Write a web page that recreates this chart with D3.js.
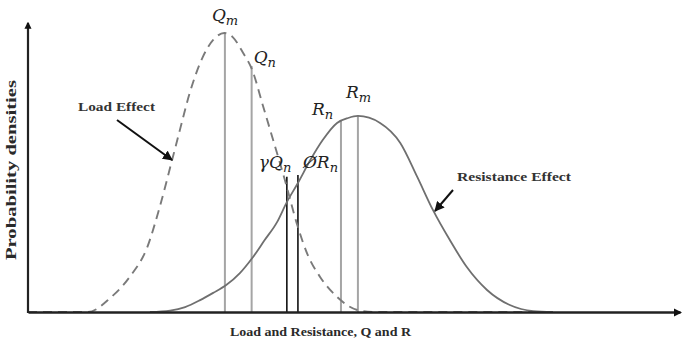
<!DOCTYPE html>
<html>
<head>
<meta charset="utf-8">
<script src="https://cdn.jsdelivr.net/npm/d3@7/dist/d3.min.js"></script>
<style>
  html, body { margin: 0; padding: 0; background: #fff; }
  svg { display: block; }
</style>
</head>
<body>
<svg id="chart" width="684" height="352"></svg>
<script>
// ---- Data (x in load/resistance units, y in density units) ----
const loadX = [0, 9.2, 12.6, 15.6, 18.3, 20.2, 22.1, 23.3, 24.8, 26.8, 28.4, 30.1, 31.4, 33.0, 34.4, 36.0, 37.6, 39.4, 41.3, 42.9, 44.8, 47.4, 50.5, 52.8, 81];
const loadY = [0, 0, 0.048, 0.121, 0.224, 0.362, 0.524, 0.628, 0.755, 0.879, 0.938, 0.962, 0.948, 0.893, 0.834, 0.714, 0.593, 0.455, 0.300, 0.197, 0.121, 0.052, 0.007, 0, 0];

const resX = [18.7, 21.8, 24.1, 26.4, 28.4, 30.4, 32.5, 34.4, 36.3, 38.2, 39.7, 41.4, 43.3, 45.2, 47.4, 49.1, 50.6, 54.0, 57.1, 59.7, 62.1, 64.7, 67.3, 70.4, 73.9, 77.5, 80.5];
const resY = [0, 0.005, 0.017, 0.041, 0.066, 0.093, 0.134, 0.186, 0.248, 0.310, 0.379, 0.445, 0.524, 0.593, 0.652, 0.669, 0.676, 0.652, 0.583, 0.466, 0.352, 0.248, 0.155, 0.076, 0.024, 0.003, 0];

const markerNames = ["Qm", "Qn", "gQn", "phiRn", "Rn", "Rm"];
const markerX     = [30.2, 34.3, 39.7, 41.4, 48.0, 50.6];
const markerTop   = [0.962, 0.848, 0.466, 0.472, 0.659, 0.676];
const markerKind  = ["gray", "gray", "black", "black", "gray", "gray"];

const xTitle = "Load and Resistance, Q and R";
const yTitle = "Probability densities";
const loadLabel = "Load Effect";
const resLabel = "Resistance Effect";

// ---- Layout ----
const svg = d3.select("#chart");
const x = d3.scaleLinear().domain([0, 100]).range([28, 680]);
const y = d3.scaleLinear().domain([0, 1]).range([312, 22]);

const defs = svg.append("defs");
defs.append("marker").attr("id", "arrow")
  .attr("viewBox", "0 0 10 10").attr("refX", 9).attr("refY", 5)
  .attr("markerWidth", 5).attr("markerHeight", 5).attr("orient", "auto-start-reverse")
  .append("path").attr("d", "M0,0 L10,5 L0,10 z").attr("fill", "#111");
defs.append("marker").attr("id", "axArrow")
  .attr("viewBox", "0 0 10 10").attr("refX", 8).attr("refY", 5)
  .attr("markerWidth", 3.2).attr("markerHeight", 3.2).attr("orient", "auto")
  .append("path").attr("d", "M0,0 L10,5 L0,10 z").attr("fill", "#111");

// ---- Marker lines ----
const mk = markerNames.map((n, i) => ({ n, x: markerX[i], top: markerTop[i], kind: markerKind[i] }));
svg.append("g").selectAll("line").data(mk).join("line")
  .attr("x1", d => x(d.x)).attr("x2", d => x(d.x))
  .attr("y1", y(0)).attr("y2", d => y(d.top))
  .attr("stroke", d => d.kind === "gray" ? "#a5a5a5" : "#111")
  .attr("stroke-width", d => d.kind === "gray" ? 2 : 1.6);

// ---- Curves ----
const line = d3.line().x(d => x(d[0])).y(d => y(d[1])).curve(d3.curveMonotoneX);
svg.append("path").datum(d3.zip(resX, resY))
  .attr("d", line).attr("fill", "none").attr("stroke", "#6f6f6f").attr("stroke-width", 1.8);
svg.append("path").datum(d3.zip(loadX, loadY))
  .attr("d", line).attr("fill", "none").attr("stroke", "#7a7a7a").attr("stroke-width", 1.9)
  .attr("stroke-dasharray", "9,6");

// ---- Axes ----
const xAxis = svg.append("g").attr("transform", `translate(0,${y(0)})`)
  .call(d3.axisBottom(x).tickValues([]).tickSizeOuter(0));
xAxis.select(".domain").attr("stroke", "#222").attr("stroke-width", 2.6)
  .attr("marker-end", "url(#axArrow)");
const yAxis = svg.append("g").attr("transform", `translate(${x(0)},0)`)
  .call(d3.axisLeft(y).tickValues([]).tickSizeOuter(0));
yAxis.select(".domain").attr("stroke", "#222").attr("stroke-width", 2.2)
  .attr("d", `M0,${y(0) + 1}V${y(1) + 1}`)
  .attr("marker-end", "url(#axArrow)");

// ---- Titles ----
svg.append("text").attr("x", 230).attr("y", 336)
  .attr("font-family", "Liberation Serif, Times New Roman, serif").attr("font-weight", "bold")
  .attr("font-size", 13).attr("fill", "#2a2a2a")
  .attr("textLength", 181).attr("lengthAdjust", "spacingAndGlyphs").text(xTitle);
svg.append("text").attr("transform", "translate(16,260) rotate(-90)")
  .attr("font-family", "Liberation Serif, Times New Roman, serif").attr("font-weight", "bold")
  .attr("font-size", 15).attr("fill", "#2a2a2a")
  .attr("textLength", 180).attr("lengthAdjust", "spacingAndGlyphs").text(yTitle);

// ---- Annotation labels ----
svg.append("text").attr("x", 78).attr("y", 111)
  .attr("font-family", "Liberation Serif, Times New Roman, serif").attr("font-weight", "bold")
  .attr("font-size", 12).attr("fill", "#333")
  .attr("textLength", 77).attr("lengthAdjust", "spacingAndGlyphs").text(loadLabel);
svg.append("line").attr("x1", 117).attr("y1", 120).attr("x2", 172).attr("y2", 160)
  .attr("stroke", "#111").attr("stroke-width", 2).attr("marker-end", "url(#arrow)");

svg.append("text").attr("x", 457).attr("y", 181)
  .attr("font-family", "Liberation Serif, Times New Roman, serif").attr("font-weight", "bold")
  .attr("font-size", 13).attr("fill", "#333")
  .attr("textLength", 114).attr("lengthAdjust", "spacingAndGlyphs").text(resLabel);
svg.append("line").attr("x1", 453).attr("y1", 190).attr("x2", 435).attr("y2", 211)
  .attr("stroke", "#111").attr("stroke-width", 2).attr("marker-end", "url(#arrow)");

// ---- Math labels for markers ----
const mathLabels = [
  { i: 0, main: "Q", sub: "m", dx: -13, yb: 21 },
  { i: 1, main: "Q", sub: "n", dx: 2,   yb: 63 },
  { i: 2, main: "γQ", sub: "n", dx: -28, yb: 168 },
  { i: 3, main: "ØR", sub: "n", dx: 5,  yb: 168 },
  { i: 4, main: "R", sub: "n", dx: -29, yb: 115 },
  { i: 5, main: "R", sub: "m", dx: -12, yb: 98 }
];
const ml = svg.append("g").selectAll("text").data(mathLabels).join("text")
  .attr("x", d => x(markerX[d.i]) + d.dx).attr("y", d => d.yb)
  .attr("font-family", "DejaVu Serif, serif").attr("font-style", "italic")
  .attr("font-size", 17).attr("fill", "#222");
ml.append("tspan").text(d => d.main);
ml.append("tspan").attr("font-size", 13).attr("dy", 4).text(d => d.sub);
</script>
</body>
</html>
